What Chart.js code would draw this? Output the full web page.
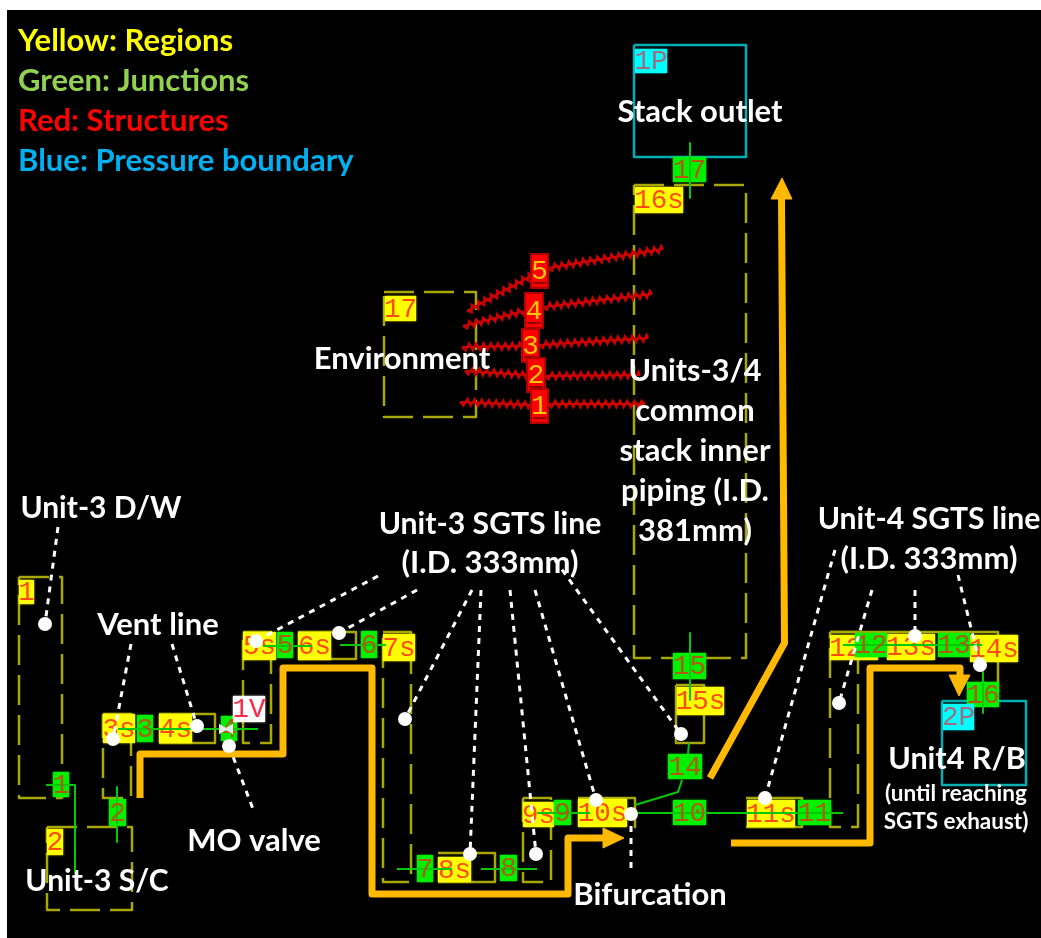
<!DOCTYPE html>
<html>
<head>
<meta charset="utf-8">
<title>Stack vent model</title>
<script src="https://cdn.jsdelivr.net/npm/chart.js@4/dist/chart.umd.min.js"></script>
<style>
    html, body { margin: 0; background: #fff; }
    canvas { display: block; }
</style>
</head>
<body>
<canvas id="myChart" width="1041" height="938"></canvas>
<script>
// everything is in the picture's own units, x to the right and y downwards
const panel = [7, 10, 1041, 938];

// control volume outlines (dashed)
const regionOutlines = [
    [[19, 577], [62, 577], [62, 798], [19, 798], [19, 577]],
    [[47, 827], [132, 827], [132, 910], [47, 910], [47, 827]],
    [[103, 714], [131, 714], [131, 798], [103, 798], [103, 714]],
    [[243, 632], [271, 632], [271, 743], [243, 743], [243, 632]],
    [[383, 632], [411, 632], [411, 882], [383, 882], [383, 632]],
    [[523, 798], [551, 798], [551, 882], [523, 882], [523, 798]],
    [[634, 185], [746, 185], [746, 658], [634, 658], [634, 185]],
    [[830, 632], [858, 632], [858, 827], [830, 827], [830, 632]],
    [[384, 292], [476, 292], [476, 417], [384, 417], [384, 292]]
];
// short outlines that read as solid
const regionSolid = [
    [[159, 714], [215, 714], [215, 743], [159, 743]],
    [[298, 632], [356, 632], [356, 659], [298, 659]],
    [[438, 853], [495, 853], [495, 882], [438, 882]],
    [[578, 798], [635, 798], [635, 827]],
    [[676, 685], [704, 685], [704, 743], [676, 743], [676, 685]],
    [[746, 798], [802, 798], [802, 827], [746, 827]],
    [[830, 632], [998, 632], [998, 682]]
];
const pressureBoxes = [
    [[634, 45], [746, 45], [746, 157], [634, 157], [634, 45]],
    [[942, 701], [1026, 701], [1026, 785], [942, 785], [942, 701]]
];
const junctionLines = [
    [[46, 785], [75, 785], [75, 873]],
    [[117, 787], [117, 842]],
    [[118, 729], [258, 729]],
    [[263, 646], [312, 646]],
    [[340, 645], [386, 645]],
    [[397, 869], [452, 869]],
    [[481, 869], [537, 869]],
    [[537, 813], [590, 813]],
    [[637, 813], [843, 813]],
    [[635, 805], [678, 792], [682, 780]],
    [[688, 754], [689, 743]],
    [[690, 633], [690, 700]],
    [[690, 143], [690, 198]],
    [[843, 645], [982, 645]],
    [[983, 672], [983, 713]]
];
const structureLeft = [
    [[467, 311], [531, 276]],
    [[463, 326], [525, 311]],
    [[462, 347], [522, 346]],
    [[465, 371], [527, 375]],
    [[460, 402], [531, 405]]
];
const structureRight = [
    [[548, 268], [663, 249]],
    [[543, 307], [652, 294]],
    [[539, 345], [648, 338]],
    [[545, 376], [640, 375]],
    [[548, 404], [645, 404]]
];
const flowPaths = [
    [[140, 798], [140, 754], [283, 754], [283, 668], [372, 668], [372, 894], [568, 894], [568, 838], [604, 838]],
    [[710, 778], [784.5, 643], [781.5, 199]],
    [[731, 843], [870, 843], [870, 668], [960, 668], [960, 676]]
];
const flowArrows = [
    [[603, 828], [624, 838], [603, 848], [603, 828]],
    [[771, 199], [782, 178], [792, 199], [771, 199]],
    [[949, 675], [959, 696], [970, 675], [949, 675]]
];
const leaderLines = [
    [[58, 527], [45, 624]],
    [[131, 644], [113, 739]],
    [[172, 644], [197, 726]],
    [[229, 746], [253, 809]],
    [[378, 576], [256, 641]],
    [[417, 590], [339, 633]],
    [[472, 590], [405, 719]],
    [[481, 590], [470, 854]],
    [[510, 590], [536, 854]],
    [[535, 590], [596, 800]],
    [[631, 814], [631, 869]],
    [[555, 560], [681, 734]],
    [[835, 550], [765, 798]],
    [[872, 590], [839, 703]],
    [[915, 590], [915, 636]],
    [[958, 575], [980, 665]]
];
const leaderDots = [
    [45, 624], [113, 739], [197, 726], [229, 746], [256, 641], [339, 633],
    [405, 719], [470, 854], [536, 854], [596, 800], [631, 814], [681, 734],
    [765, 798], [839, 703], [915, 636], [980, 665]
];
const valveMarks = [[222, 729], [230, 729]];

// tag: text, x0, y0, x1, y1
const regionTags = [
    ["1", 19, 580, 34, 604], ["2", 47, 829, 63, 855], ["3s", 103, 714, 135, 743],
    ["4s", 159, 714, 192, 743], ["5s", 243, 632, 276, 660], ["6s", 298, 632, 331, 660],
    ["7s", 383, 634, 415, 661], ["8s", 438, 857, 471, 882], ["9s", 523, 802, 554, 827],
    ["10s", 578, 799, 627, 827], ["11s", 747, 800, 795, 827], ["12s", 830, 635, 878, 660],
    ["13s", 887, 634, 935, 660], ["14s", 970, 635, 1018, 662], ["15s", 677, 687, 724, 715],
    ["16s", 635, 187, 683, 213], ["17", 385, 296, 416, 321]
];
const junctionTags = [
    ["1", 53, 772, 69, 797], ["2", 109, 799, 126, 826], ["3", 137, 715, 153, 742],
    ["4", 221, 716, 237, 741], ["5", 277, 632, 293, 658], ["6", 361, 631, 377, 658],
    ["7", 417, 855, 433, 882], ["8", 500, 855, 517, 881], ["9", 554, 800, 571, 825],
    ["10", 673, 800, 706, 825], ["11", 798, 800, 831, 825], ["12", 855, 633, 887, 657],
    ["13", 938, 633, 970, 657], ["14", 668, 754, 702, 779], ["15", 673, 653, 706, 679],
    ["16", 967, 682, 999, 707], ["17", 673, 157, 706, 182]
];
const pressureTags = [["1P", 635, 49, 667, 73], ["2P", 943, 704, 974, 730]];
const valveTags = [["1V", 233, 696, 265, 722]];
const structureTags = [
    ["5", 531, 254, 548, 288], ["4", 525, 293, 543, 328], ["3", 522, 329, 539, 362],
    ["2", 527, 358, 545, 392], ["1", 531, 389, 548, 423]
];

// text, x, y, size
const legendLines = [
    ["Yellow: Regions", 18, 41, "#ffff00"],
    ["Green: Junctions", 18, 81, "#92d050"],
    ["Red: Structures", 18, 121, "#ff0000"],
    ["Blue: Pressure boundary", 18, 161, "#00b0f0"]
];
const annotations = [
    ["Stack outlet", 700, 112, 31],
    ["Environment", 402, 359, 31],
    ["Units-3/4", 695, 371, 30.5],
    ["common", 695, 411, 31],
    ["stack inner", 695, 451, 31],
    ["piping (I.D.", 695, 491, 31],
    ["381mm)", 695, 531, 31],
    ["Unit-3 D/W", 101, 508, 30],
    ["Vent line", 158, 625, 31],
    ["Unit-3 SGTS line", 490, 524, 30.2],
    ["(I.D. 333mm)", 490, 563, 31],
    ["Unit-4 SGTS line", 929, 519, 30.2],
    ["(I.D. 333mm)", 929, 559, 31],
    ["MO valve", 254, 841, 31],
    ["Unit-3 S/C", 97, 881, 30],
    ["Bifurcation", 650, 895, 31],
    ["Unit4 R/B", 957, 759, 30.5],
    ["(until reaching", 956, 794, 22.5],
    ["SGTS exhaust)", 956, 822, 22.5]
];

function toPoints(list) {
    return list.map(function (p) { return { x: p[0], y: p[1] }; });
}

function pathSet(paths, color, width, dash) {
    return paths.map(function (path) {
        return {
            data: toPoints(path),
            showLine: true,
            borderColor: color,
            borderWidth: width,
            borderDash: dash || [],
            pointRadius: 0,
            borderJoinStyle: "round",
            clip: false
        };
    });
}

function tagBox(chart, t) {
    const sx = chart.scales.x, sy = chart.scales.y;
    let x0 = sx.getPixelForValue(t[1]), x1 = sx.getPixelForValue(t[3]);
    let y0 = sy.getPixelForValue(t[2]), y1 = sy.getPixelForValue(t[4]);
    return { x: x0, y: y0, w: x1 - x0, h: y1 - y0 };
}

function fillTags(chart, tags, fill) {
    const ctx = chart.ctx;
    for (let t of tags) {
        let b = tagBox(chart, t);
        ctx.save();
        ctx.shadowColor = fill;
        ctx.shadowBlur = 2;
        ctx.fillStyle = fill;
        ctx.fillRect(b.x, b.y, b.w, b.h);
        ctx.restore();
    }
}

function writeTags(chart, tags, textColor) {
    const ctx = chart.ctx;
    ctx.fillStyle = textColor;
    ctx.font = "27.5px 'Liberation Mono'";
    ctx.textAlign = "center";
    ctx.textBaseline = "middle";
    for (let t of tags) {
        let b = tagBox(chart, t);
        ctx.fillText(t[0], b.x + b.w / 2, b.y + b.h / 2 + 1);
    }
}

function drawStructureTags(chart) {
    const ctx = chart.ctx;
    for (let t of structureTags) {
        let b = tagBox(chart, t);
        ctx.fillStyle = "#ff0000";
        ctx.fillRect(b.x, b.y, b.w, b.h);
        ctx.strokeStyle = "#b00000";
        ctx.lineWidth = 2;
        ctx.strokeRect(b.x, b.y, b.w, b.h);
        ctx.fillStyle = "#900000";
        ctx.fillRect(b.x + 2, b.y + b.h - 6, b.w - 4, 2);
    }
    writeTags(chart, structureTags, "#ffc800");
}

// heat structures are drawn as coils between their two end points
function strokeCoil(ctx, a, b) {
    let dx = b.x - a.x, dy = b.y - a.y, len = Math.hypot(dx, dy);
    let ux = dx / len, uy = dy / len, step = 3.6, side = 1;
    ctx.beginPath();
    ctx.moveTo(a.x, a.y);
    for (let d = step; d < len; d += step) {
        let amp = side * 3.6;
        ctx.lineTo(a.x + ux * d - uy * amp, a.y + uy * d + ux * amp);
        side = -side;
    }
    ctx.lineTo(b.x, b.y);
    ctx.stroke();
    ctx.beginPath();
    ctx.moveTo(a.x, a.y);
    ctx.lineTo(b.x, b.y);
    ctx.stroke();
}

const panelPlugin = {
    id: "panel",
    beforeDatasetsDraw(chart) {
        const ctx = chart.ctx, sx = chart.scales.x, sy = chart.scales.y;
        let x0 = sx.getPixelForValue(panel[0]), y0 = sy.getPixelForValue(panel[1]);
        ctx.fillStyle = "#000";
        ctx.fillRect(x0, y0, sx.getPixelForValue(panel[2]) - x0, sy.getPixelForValue(panel[3]) - y0);
    }
};

const tagsPlugin = {
    id: "tags",
    beforeDatasetDraw(chart, args) {
        let ds = chart.data.datasets[args.index];
        const ctx = chart.ctx;
        if (ds.tagFills) {
            // coils first so the tags sit on top of their ends
            chart.data.datasets.forEach(function (other, i) {
                if (other.coil) {
                    let pts = chart.getDatasetMeta(i).data;
                    ctx.save();
                    ctx.strokeStyle = "#d00000";
                    ctx.lineWidth = 2;
                    strokeCoil(ctx, pts[0], pts[1]);
                    ctx.restore();
                }
            });
            // region text before the junction fills, junction 12 hides part of 12s
            fillTags(chart, regionTags, "#ffff00");
            writeTags(chart, regionTags, "#ff4a10");
            fillTags(chart, junctionTags, "#00f000");
            fillTags(chart, pressureTags, "#00ffff");
            fillTags(chart, valveTags, "#ffffff");
            drawStructureTags(chart);
        }
        if (ds.tagTexts) {
            // these labels go over the junction lines
            writeTags(chart, junctionTags, "#b05a10");
            writeTags(chart, pressureTags, "#a06a80");
            writeTags(chart, valveTags, "#ff2848");
        }
    }
};

const textPlugin = {
    id: "texts",
    afterDatasetsDraw(chart) {
        const ctx = chart.ctx, sx = chart.scales.x, sy = chart.scales.y;
        ctx.textBaseline = "middle";
        ctx.textAlign = "left";
        ctx.font = "bold 31px Lato";
        for (let l of legendLines) {
            ctx.fillStyle = l[3];
            ctx.fillText(l[0], sx.getPixelForValue(l[1]), sy.getPixelForValue(l[2]));
        }
        ctx.textAlign = "center";
        ctx.fillStyle = "#fff";
        for (let a of annotations) {
            ctx.font = "bold " + a[3] + "px Lato";
            ctx.fillText(a[0], sx.getPixelForValue(a[1]), sy.getPixelForValue(a[2]));
        }
    }
};

let datasets = [].concat(
    pathSet(regionOutlines, "#a8a800", 2.5, [30, 10]),
    pathSet(regionSolid, "#a8a800", 2.5),
    pathSet(pressureBoxes, "#00aeb4", 2.5),
    // these carry only their end points, the coil is drawn by tagsPlugin
    structureLeft.concat(structureRight).map(function (s) {
        return { data: toPoints(s), coil: true, showLine: false, pointRadius: 0 };
    })
);
let lines = pathSet(junctionLines, "#06c806", 2);
lines[0].tagFills = true;
let flows = pathSet(flowPaths, "#ffb900", 7);
flows[0].tagTexts = true;
datasets = datasets.concat(
    lines,
    flows,
    flowArrows.map(function (a) {
        return {
            data: toPoints(a), showLine: true, fill: "shape", backgroundColor: "#ffb900",
            borderColor: "#ffb900", borderWidth: 1, pointRadius: 0, clip: false
        };
    }),
    [{
        data: toPoints(valveMarks),
        pointStyle: "triangle",
        pointRadius: 6,
        pointRotation: [90, 270],
        pointBackgroundColor: "#e8e8e8",
        pointBorderWidth: 0,
        clip: false
    }],
    pathSet(leaderLines, "#ffffff", 3, [6, 6]),
    [{
        data: toPoints(leaderDots),
        pointRadius: 7,
        pointBackgroundColor: "#ffffff",
        pointBorderWidth: 0,
        clip: false
    }]
);
// chart.js draws the first dataset last unless order says otherwise
datasets.forEach(function (ds, i) { ds.order = datasets.length - i; });

new Chart("myChart", {
    type: "scatter",
    data: { datasets: datasets },
    options: {
        responsive: false,
        animation: false,
        layout: { padding: 0, autoPadding: false },
        events: [],
        plugins: { legend: { display: false }, tooltip: { enabled: false } },
        scales: {
            x: { type: "linear", display: false, min: 0, max: 1041 },
            y: { type: "linear", display: false, min: 0, max: 938, reverse: true }
        }
    },
    plugins: [panelPlugin, tagsPlugin, textPlugin]
});
</script>
</body>
</html>
